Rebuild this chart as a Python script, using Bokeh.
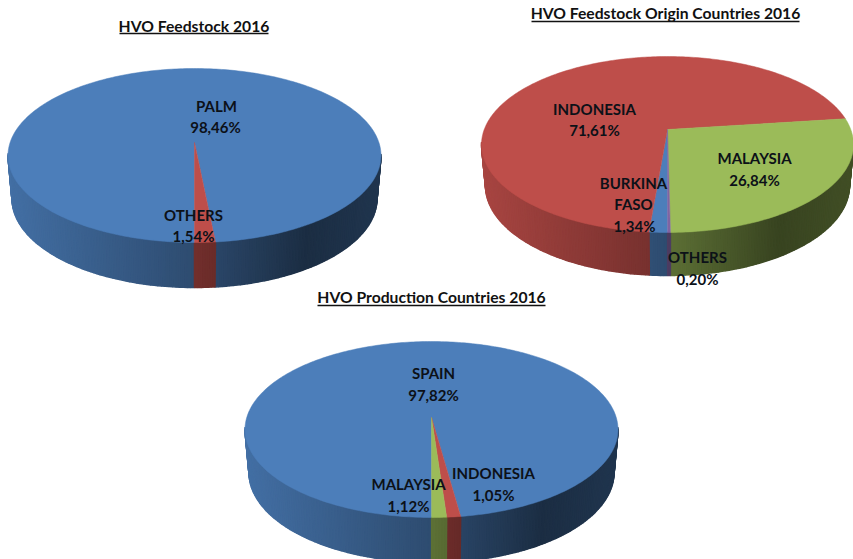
import numpy as np
from bokeh.plotting import figure
from bokeh.models import Range1d
from bokeh.core.properties import value
from bokeh.embed import file_html
from bokeh.resources import INLINE

# ---- chart values
feedstock_names = ["PALM", "OTHERS"]
feedstock_values = [98.46, 1.54]
origin_names = ["BURKINA FASO", "INDONESIA", "MALAYSIA", "OTHERS"]
origin_values = [1.34, 71.61, 26.84, 0.20]
production_names = ["SPAIN", "INDONESIA", "MALAYSIA"]
production_values = [97.82, 1.05, 1.12]

titles = ["HVO Feedstock 2016", "HVO Feedstock Origin Countries 2016", "HVO Production Countries 2016"]

# ---- styles and layout
BLUE, RED, GREEN, PURPLE = (76, 126, 186), (190, 78, 74), (155, 187, 89), (128, 100, 162)
FONT = "Lato"
W, H = 853, 559

pies = [
    dict(vals=feedstock_values, cols=[BLUE, RED], cx=194, cy=155, a=186.5, b=87, apex_y=142, depth=45),
    dict(vals=origin_values, cols=[BLUE, RED, GREEN, PURPLE], cx=667, cy=144, a=186, b=88, apex_y=129, depth=43),
    dict(vals=production_values, cols=[BLUE, RED, GREEN], cx=431, cy=429, a=186.5, b=88, apex_y=417, depth=45),
]
title_pos = [(193.5, 25, 119, 268, 33), (665, 12, 531, 799, 21), (431, 296, 317, 545, 305)]
labels = [
    ("PALM", 216, 105), ("98,46%", 215, 126), ("OTHERS", 193, 214), ("1,54%", 193, 235),
    ("INDONESIA", 594, 108), ("71,61%", 594, 129), ("MALAYSIA", 754, 157), ("26,84%", 754, 179),
    ("BURKINA", 633, 182), ("FASO", 633, 203), ("1,34%", 634, 225), ("OTHERS", 697, 256), ("0,20%", 697, 278),
    ("SPAIN", 433, 372), ("97,82%", 433, 394), ("MALAYSIA", 408, 483), ("1,12%", 408, 505),
    ("INDONESIA", 493, 472), ("1,05%", 493, 494),
]


def hexcol(c, f=1.0):
    return "#%02x%02x%02x" % tuple(int(round(v * f)) for v in c)


def shade(fx):
    return float(np.interp(fx, [0, 0.5, 0.8, 1], [0.88, 0.6, 0.36, 0.42]))


def project(theta, k):
    # theta clockwise from the top; perspective map of the unit disc moving its centre to (0, k)
    x, y = np.sin(theta), np.cos(theta)
    d = 1 + k * y
    return x * np.sqrt(1 - k * k) / d, (y + k) / d


p = figure(width=W, height=H, x_range=Range1d(0, W), y_range=Range1d(H, 0),
           x_axis_type=None, y_axis_type=None, toolbar_location=None, output_backend="svg",
           min_border=0, outline_line_color=None)
p.grid.visible = False

side_x, side_y, side_c = [], [], []
top_x, top_y, top_c = [], [], []
for pie in pies:
    cx, cy, a, b, depth = pie["cx"], pie["cy"], pie["a"], pie["b"], pie["depth"]
    k = (cy - pie["apex_y"]) / b
    a2, b2, cy2 = a - 4, b + 2, cy + depth - 2
    start = np.pi
    for v, col in zip(pie["vals"], pie["cols"]):
        span = v / 100 * 2 * np.pi
        n = max(2, int(np.ceil(np.degrees(span))) + 1)
        th = np.linspace(start, start + span, n)
        xu, yu = project(th, k)
        top_x.append([cx] + list(cx + a * xu))
        top_y.append([pie["apex_y"]] + list(cy - b * yu))
        top_c.append(hexcol(col))
        for i in range(n - 1):
            if (yu[i] + yu[i + 1]) / 2 > 0.02:
                continue
            fx = (xu[i] + xu[i + 1] + 2) / 4
            side_x.append([cx + a * xu[i], cx + a * xu[i + 1], cx + a2 * xu[i + 1], cx + a2 * xu[i]])
            side_y.append([cy - b * yu[i], cy - b * yu[i + 1], cy2 - b2 * yu[i + 1], cy2 - b2 * yu[i]])
            side_c.append(hexcol(col, shade(fx)))
        start += span

p.patches(side_x, side_y, fill_color=side_c, line_color=side_c, line_width=1.5)
p.patches(top_x, top_y, fill_color=top_c, line_color=top_c, line_width=0.5)

p.text([t[1] for t in labels], [t[2] for t in labels], text=[t[0] for t in labels],
       text_font=value(FONT), text_font_style="bold", text_font_size="15px",
       text_color="#0c1118", text_align="center", text_baseline="middle")

p.text([t[0] for t in title_pos], [t[1] for t in title_pos], text=titles,
       text_font=value(FONT), text_font_style="bold", text_font_size="15.7px",
       text_color="#111111", text_align="center", text_baseline="middle")
p.segment([t[2] for t in title_pos], [t[4] for t in title_pos],
          [t[3] for t in title_pos], [t[4] for t in title_pos],
          line_color="#111111", line_width=1.4)

open("out.html", "w").write(file_html(p, INLINE))
